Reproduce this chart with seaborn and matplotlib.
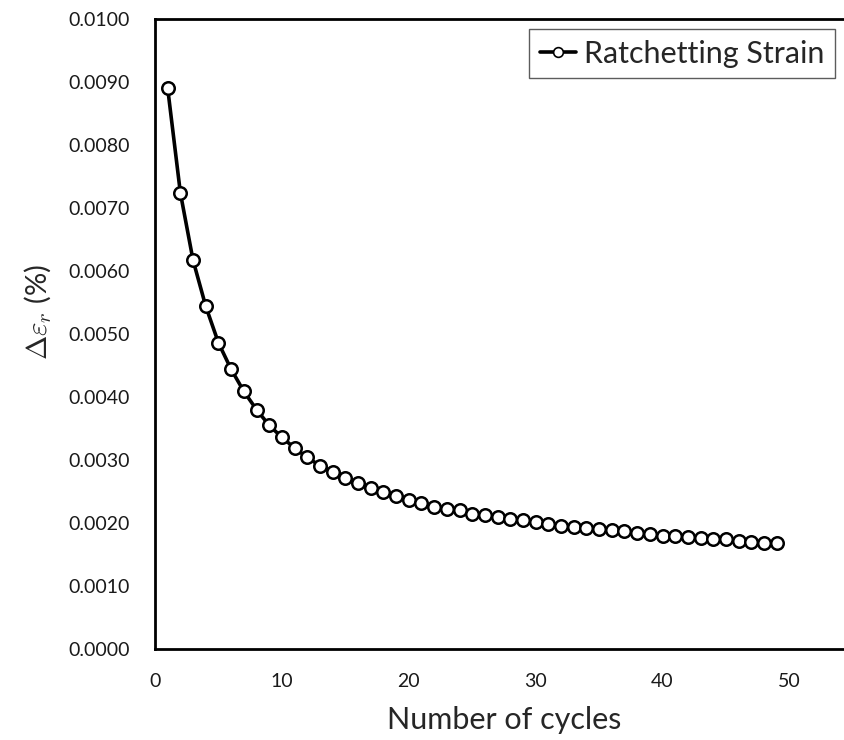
import matplotlib
matplotlib.use("Agg")
import matplotlib.pyplot as plt
import seaborn as sns
import pandas as pd

cycles = [1, 2, 3, 4, 5, 6, 7, 8, 9, 10,
          11, 12, 13, 14, 15, 16, 17, 18, 19, 20,
          21, 22, 23, 24, 25, 26, 27, 28, 29, 30,
          31, 32, 33, 34, 35, 36, 37, 38, 39, 40,
          41, 42, 43, 44, 45, 46, 47, 48, 49]
strain = [0.00890, 0.00724, 0.00617, 0.00544, 0.00486, 0.00444, 0.00409, 0.00380, 0.00355, 0.00336,
          0.00319, 0.00304, 0.00291, 0.00281, 0.00271, 0.00263, 0.00255, 0.00249, 0.00243, 0.00237,
          0.00231, 0.00226, 0.00223, 0.00220, 0.00215, 0.00213, 0.00209, 0.00207, 0.00204, 0.00202,
          0.00199, 0.00196, 0.00194, 0.00192, 0.00191, 0.00189, 0.00187, 0.00184, 0.00182, 0.00180,
          0.00180, 0.00178, 0.00176, 0.00175, 0.00174, 0.00171, 0.00170, 0.00168, 0.00168]
series_name = "Ratchetting Strain"
x_ticks = [0, 10, 20, 30, 40, 50]
y_ticks = [0.0, 0.001, 0.002, 0.003, 0.004, 0.005, 0.006, 0.007, 0.008, 0.009, 0.010]

sns.set_theme(style="white")
plt.rcParams['font.family'] = ['Lato', 'DejaVu Sans']
plt.rcParams['mathtext.fontset'] = 'cm'

df = pd.DataFrame({"cycles": cycles, "strain": strain, "series": series_name})

fig = plt.figure(figsize=(8.44, 7.40), dpi=100)
ax = fig.add_axes([155 / 844, 1 - 649 / 740, 1 - 155 / 844 + 0.01, (649 - 19) / 740])

sns.lineplot(data=df, x="cycles", y="strain", hue="series", palette=["black"],
             marker="o", markersize=9, markerfacecolor="white", markeredgecolor="black",
             markeredgewidth=1.8, linewidth=2.6, ax=ax)

ax.set_xlim(0, 54.3 + 0.01 * 844 / 12.67)
ax.set_ylim(0, 0.0100)
ax.set_xticks(x_ticks)
ax.set_yticks(y_ticks)
ax.set_yticklabels([f"{v:.4f}" for v in y_ticks])
ax.tick_params(axis="both", direction="in", length=5, width=1.8, colors="black",
               labelsize=14, labelcolor="#1a1a1a")
ax.tick_params(axis="y", pad=18)
ax.tick_params(axis="x", pad=17)
for side in ["left", "bottom", "top", "right"]:
    ax.spines[side].set_color("black")
    ax.spines[side].set_linewidth(2.0)
ax.spines["right"].set_visible(False)

ax.set_xlabel("Number of cycles", fontsize=22, labelpad=12)
ax.set_ylabel(r"$\Delta\varepsilon_r$ (%)", fontsize=21)
ax.yaxis.set_label_coords(-0.145, 0.535)

leg = ax.legend(loc="upper right", fontsize=22, frameon=True, fancybox=False,
                bbox_to_anchor=(835 / 844, 1 - 29 / 740), bbox_transform=fig.transFigure,
                borderaxespad=0.0, handlelength=1.2, handletextpad=0.25,
                borderpad=0.35)
leg.get_frame().set_edgecolor("#333333")
leg.get_frame().set_linewidth(1.0)
for h in leg.legend_handles:
    h.set_markersize(7)
    h.set_markeredgewidth(1.2)

fig.savefig("out.png", dpi=100)
